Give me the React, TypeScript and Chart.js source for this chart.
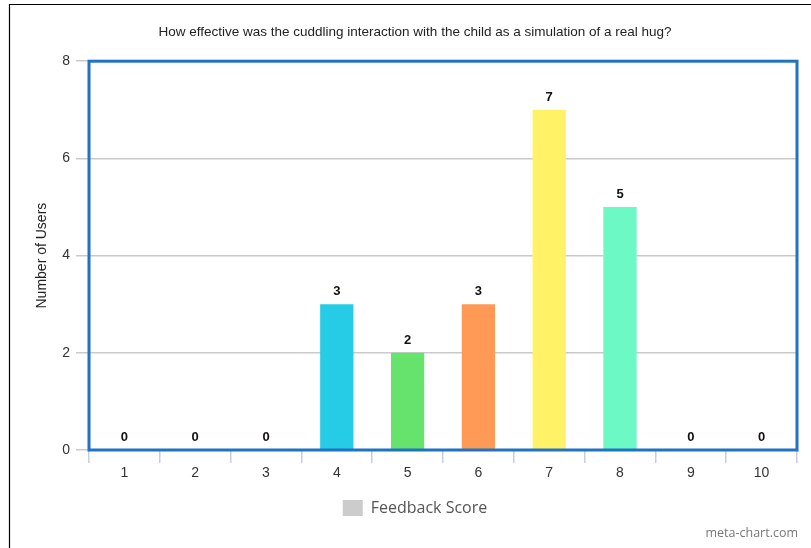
import React, { useEffect, useRef } from "react";
import { Chart, registerables } from "chart.js";

Chart.register(...registerables);

const chartTitle = "How effective was the cuddling interaction with the child as a simulation of a real hug?";
const categories = ["1", "2", "3", "4", "5", "6", "7", "8", "9", "10"];
const userCounts = [0, 0, 0, 3, 2, 3, 7, 5, 0, 0];
const barColors = [
  "#c47ff0", "#ff7f9e", "#7fb0ff", "#26cce6", "#66e36c",
  "#ff9955", "#fff266", "#6cf9c5", "#f07fd0", "#a0a0ff",
];
const yTicks = [0, 2, 4, 6, 8];
const yAxisTitle = "Number of Users";
const legendLabel = "Feedback Score";
const watermark = "meta-chart.com";

const SANS = "'Liberation Sans', Arial, sans-serif";

const framePlugin = {
  id: "framePlugin",
  beforeDraw(chart: any) {
    const ctx = chart.ctx;
    ctx.save();
    ctx.strokeStyle = "#000";
    ctx.lineWidth = 1.2;
    ctx.beginPath();
    ctx.moveTo(9.5, chart.height);
    ctx.lineTo(9.5, 4.5);
    ctx.lineTo(chart.width, 4.5);
    ctx.stroke();
    ctx.restore();
  },
  afterDatasetsDraw(chart: any) {
    const ctx = chart.ctx;
    const a = chart.chartArea;
    ctx.save();
    ctx.strokeStyle = "#1f72c4";
    ctx.lineWidth = 3;
    ctx.strokeRect(a.left, a.top, a.right - a.left, a.bottom - a.top);
    // value labels
    const meta = chart.getDatasetMeta(0);
    ctx.fillStyle = "#111";
    ctx.font = `bold 13px ${SANS}`;
    ctx.textAlign = "center";
    ctx.textBaseline = "bottom";
    meta.data.forEach((bar: any, i: number) => {
      const v = chart.data.datasets[0].data[i];
      ctx.fillText(String(v), bar.x, bar.y - 6);
    });
    // watermark
    ctx.fillStyle = "#777";
    ctx.font = `12.5px 'Open Sans', sans-serif`;
    ctx.textAlign = "right";
    ctx.textBaseline = "alphabetic";
    ctx.fillText(watermark, 798, 537);
    ctx.restore();
  },
};

export default function App() {
  const ref = useRef<HTMLCanvasElement>(null);
  useEffect(() => {
    if (!ref.current) return;
    const chart = new Chart(ref.current, {
      type: "bar",
      data: {
        labels: categories,
        datasets: [
          {
            label: legendLabel,
            data: userCounts,
            backgroundColor: barColors,
            barPercentage: 0.47,
            categoryPercentage: 1,
          },
        ],
      },
      options: {
        responsive: false,
        animation: false,
        devicePixelRatio: 1,
        layout: { padding: { left: 33, right: 14, top: 0, bottom: 22 } },
        plugins: {
          tooltip: { enabled: false },
          title: {
            display: true,
            text: chartTitle,
            color: "#222",
            font: { family: SANS, size: 13.5, weight: "normal" },
            padding: { top: 24, bottom: 21 },
          },
          legend: {
            display: true,
            position: "bottom",
            onClick: () => {},
            labels: {
              boxWidth: 20,
              boxHeight: 16,
              padding: 10,
              color: "#555",
              font: { family: "'Open Sans', sans-serif", size: 16 },
              generateLabels: () => [
                {
                  text: legendLabel,
                  fillStyle: "#cccccc",
                  strokeStyle: "#cccccc",
                  lineWidth: 0,
                  hidden: false,
                  datasetIndex: 0,
                  fontColor: "#555",
                },
              ],
            },
          },
        },
        scales: {
          x: {
            offset: true,
            border: { display: false },
            grid: {
              offset: true,
              drawOnChartArea: false,
              drawTicks: true,
              tickLength: 13,
              color: "#c5cfdc",
              lineWidth: 1.5,
            },
            ticks: {
              color: "#333",
              font: { family: SANS, size: 14 },
              padding: 2,
            },
            afterFit: (s: any) => {
              s.height = 40;
            },
          },
          y: {
            min: 0,
            max: 8,
            border: { display: false },
            afterBuildTicks: (s: any) => {
              s.ticks = yTicks.map((v) => ({ value: v }));
            },
            grid: {
              color: "#cacaca",
              lineWidth: 1.5,
              tickLength: 13,
            },
            ticks: {
              color: "#333",
              font: { family: SANS, size: 14 },
              padding: 6,
            },
            title: {
              display: true,
              text: yAxisTitle,
              color: "#222",
              font: { family: SANS, size: 14 },
              padding: { top: 1, bottom: 0 },
            },
            afterFit: (s: any) => {
              s.width = 56;
            },
          },
        },
      },
      plugins: [framePlugin],
    });
    return () => chart.destroy();
  }, []);
  return (
    <div style={{ position: "fixed", left: 0, top: 0, width: 811, height: 548, background: "#fff" }}>
      <canvas ref={ref} width={811} height={548} style={{ display: "block" }} />
    </div>
  );
}
